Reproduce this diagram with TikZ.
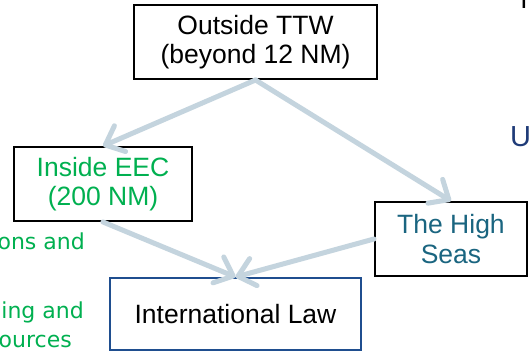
\documentclass[tikz,border=0pt]{standalone}
\usepackage{fontspec}
\setmainfont{Liberation Sans}
\newfontfamily\tahomalike{DejaVu Sans}
\usetikzlibrary{arrows.meta}
\definecolor{arrowc}{HTML}{C4D4DE}
\definecolor{eecgreen}{HTML}{00B050}
\definecolor{seateal}{HTML}{1A6580}
\definecolor{lawblue}{HTML}{1F4E8F}
\definecolor{navytxt}{HTML}{1F3B78}
\begin{document}
\begin{tikzpicture}[x=1pt,y=-1pt,
  box/.style={draw=black,line width=2pt,inner sep=0pt,align=center,
    font=\fontsize{26.5}{29.5}\selectfont},
  conn/.style={draw=arrowc,line width=5pt,line cap=round,
    -{Straight Barb[length=16pt,width=28pt,round]}},
  part/.style={inner sep=0pt,text=eecgreen,font=\tahomalike\fontsize{22}{26}\selectfont},
  edgetxt/.style={inner sep=0pt,font=\fontsize{26.5}{29.5}\selectfont}]
\useasboundingbox (0,0) rectangle (529,352);
\clip (0,0) rectangle (529,352);
\fill[white] (0,0) rectangle (529,352);

\node[box,minimum width=243pt,minimum height=74pt] (ttw) at (255.5,42)
  {Outside TTW\\(beyond 12 NM)};
\node[box,minimum width=178pt,minimum height=74pt,text=eecgreen] (eec) at (103,184)
  {Inside EEC\\(200 NM)};
\node[box,minimum width=152pt,minimum height=74pt,text=seateal] (seas) at (451,239)
  {The High\\Seas};
\node[box,draw=lawblue,minimum width=251pt,minimum height=72pt] (law) at (235.5,314)
  {International Law};

\draw[conn] (ttw.south) -- (eec.north);
\draw[conn] (ttw.south) -- (seas.north);
\draw[conn] (eec.south) -- (law.north);
\draw[conn] (seas.west) -- (law.north);

\node[part,anchor=base east] (p1) at (85,250) {ons and};
\node[part,anchor=base east] (p2) at (84,318) {ing and};
\node[part,anchor=base east] (p3) at (72,347) {ources};

\node[edgetxt,anchor=base] (t1) at (524,9) {T};
\node[edgetxt,anchor=base west,text=navytxt,font=\fontsize{29}{32}\selectfont] (u1) at (510,147) {U};
\end{tikzpicture}
\end{document}
